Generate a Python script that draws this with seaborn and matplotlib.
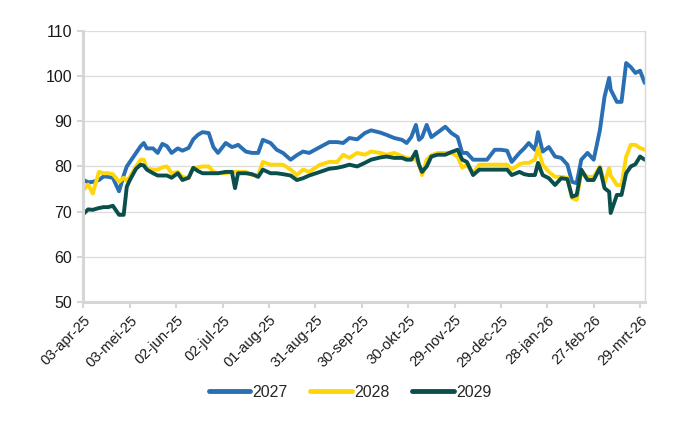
import numpy as np
import pandas as pd
import matplotlib
matplotlib.use("Agg")
import matplotlib.pyplot as plt
import seaborn as sns
from matplotlib.lines import Line2D

# ---- data ----
start_date = "2025-04-03"
day_offsets = [0, 3, 6, 10, 13, 16, 19, 23, 26, 28, 30, 34, 37, 39, 41, 45, 48, 51, 54, 57,
               61, 64, 68, 71, 74, 77, 81, 84, 87, 92, 96, 98, 100, 105, 109, 113, 116, 121, 125, 129,
               134, 138, 142, 146, 153, 159, 164, 168, 172, 177, 182, 186, 192, 196, 201, 206, 209, 212, 215, 217,
               219, 222, 225, 229, 234, 238, 242, 245, 248, 252, 256, 261, 266, 270, 274, 277, 282, 285, 288, 292,
               294, 297, 301, 305, 309, 313, 316, 319, 322, 326, 330, 334, 337, 340, 341, 345, 348, 351, 354, 357,
               360, 363]
s2027 = [77, 76.5, 76.6, 77, 77.8, 77.7, 77.5, 74.5, 78, 80, 81, 83, 84.5, 85.2, 84, 84, 83, 85, 84.5, 83,
         84, 83.5, 84.1, 86, 87, 87.6, 87.4, 84.3, 83, 85.2, 84.3, 84.5, 84.8, 83.3, 83, 83, 85.9, 85.2, 83.7, 83,
         81.5, 82.5, 83.3, 83, 84.3, 85.4, 85.4, 85.2, 86.3, 86, 87.4, 88, 87.5, 87, 86.3, 85.9, 85.2, 86.5, 89.2, 85.9,
         86.5, 89.2, 86.5, 87.5, 88.8, 87.4, 86.5, 83, 83, 81.5, 81.5, 81.5, 83.7, 83.7, 83.5, 81, 83, 84, 85.2, 83.7,
         87.6, 83.3, 84.3, 82.2, 81.9, 80.4, 76.6, 76.3, 81.5, 83, 81.5, 88, 95.4, 99.6, 97, 94.3, 94.3, 102.9, 102, 100.7,
         101.2, 98.5]
s2028 = [74.8, 76, 74, 78.8, 78.5, 78.5, 78.3, 76.6, 77.5, 76.8, 77.7, 80, 81.5, 81.5, 79.5, 79.3, 79.3, 79.8, 80, 78.5,
         78.8, 77.7, 77.4, 79.7, 79.8, 80, 80, 78.8, 78.5, 78.5, 78.8, 78.8, 78.8, 78.8, 78.1, 78.1, 81, 80.4, 80.4, 80.4,
         79.3, 78.1, 79.3, 78.8, 80.4, 81, 81, 82.6, 81.9, 83, 82.6, 83.3, 83, 82.6, 83, 82.3, 81.9, 81.7, 81.5, 80.5,
         78.1, 81.5, 82.5, 83, 83, 83, 82.2, 79.7, 80.4, 78.5, 80.4, 80.4, 80.4, 80.4, 80.4, 79.3, 80.5, 80.8, 80.8, 81.5,
         84.1, 80.4, 78.8, 77.7, 77.7, 77.5, 73, 72.6, 78.8, 77.7, 77.7, 80, 76.3, 79.6, 78, 75.9, 75.9, 82.2, 84.8, 84.8,
         84.1, 83.7]
s2029 = [69.5, 70.5, 70.4, 70.8, 71, 71, 71.3, 69.3, 69.3, 75.5, 77, 79.5, 80.4, 80.2, 79.3, 78.5, 78, 78, 78, 77.5,
         78.5, 77, 77.5, 79.7, 79, 78.5, 78.5, 78.5, 78.5, 78.8, 78.8, 75.2, 78.5, 78.5, 78.3, 77.7, 79.3, 78.5, 78.5, 78.3,
         78, 77, 77.4, 78, 78.8, 79.5, 79.7, 80, 80.4, 80, 80.8, 81.5, 82, 82.2, 81.9, 81.9, 81.5, 81.5, 83.3, 80.4,
         78.8, 80, 82.2, 82.6, 82.6, 83.2, 83.7, 81.5, 81, 78.1, 79.3, 79.3, 79.3, 79.3, 79.3, 78.1, 78.8, 78.3, 78.1, 78.1,
         80.8, 78.1, 77.4, 75.9, 77.4, 77.2, 73.3, 73.7, 79.3, 77, 77, 79.7, 75.2, 74.4, 69.7, 73.7, 73.7, 78.5, 80, 80.5,
         82.2, 81.5]
series_names = ["2027", "2028", "2029"]
tick_labels = ["03-apr-25", "03-mei-25", "02-jun-25", "02-jul-25", "01-aug-25", "31-aug-25",
               "30-sep-25", "30-okt-25", "29-nov-25", "29-dec-25", "28-jan-26", "27-feb-26", "29-mrt-26"]
y_ticks = [50, 60, 70, 80, 90, 100, 110]

colors = {"2027": "#2A6FB4", "2028": "#FFD60A", "2029": "#0B4F4C"}

# ---- build table ----
t0 = pd.Timestamp(start_date)
dates = t0 + pd.to_timedelta(day_offsets, unit="D")
frames = []
for name, vals in zip(series_names, [s2027, s2028, s2029]):
    frames.append(pd.DataFrame({"date": dates, "value": vals, "serie": name}))
df = pd.concat(frames, ignore_index=True)

sns.set_theme(style="white")
plt.rcParams["font.family"] = ["Liberation Sans", "DejaVu Sans"]

fig = plt.figure(figsize=(7, 4.3), dpi=100)
ax = fig.add_axes([0.1186, 0.2977, 0.8024, 0.6303])

sns.lineplot(data=df, x="date", y="value", hue="serie", palette=colors,
             linewidth=2.8, ax=ax, legend=False)

tick_dates = [t0 + pd.Timedelta(days=30 * i) for i in range(len(tick_labels))]
ax.set_xticks(tick_dates)
ax.set_xticklabels(tick_labels, rotation=45, ha="right", rotation_mode="anchor",
                   fontsize=10.5, color="#1a1a1a")
ax.set_xlim(t0 - pd.Timedelta(days=0.3), t0 + pd.Timedelta(days=363))
ax.set_ylim(50, 110)
ax.set_yticks(y_ticks)
ax.set_yticklabels([str(v) for v in y_ticks], fontsize=11.5, color="#1a1a1a")
ax.set_xlabel("")
ax.set_ylabel("")

ax.grid(axis="y", color="#DCDCDC", linewidth=0.9)
ax.grid(axis="x", visible=False)
for side in ["left", "bottom"]:
    ax.spines[side].set_color("#D6D6D6")
    ax.spines[side].set_linewidth(2.2)
ax.spines["right"].set_color("#D6D6D6")
ax.spines["right"].set_linewidth(1.0)
ax.spines["top"].set_visible(False)
ax.tick_params(axis="both", which="major", length=4, width=1.5, color="#D6D6D6",
               direction="out", pad=4, left=True, bottom=True)

handles = [Line2D([0], [0], color=colors[n], linewidth=3.5) for n in series_names]
fig.legend(handles, series_names, loc="center", bbox_to_anchor=(0.5, 0.088), ncol=3,
           frameon=False, fontsize=11.5, handlelength=2.6, handletextpad=0.15, columnspacing=1.4)

fig.savefig("out.png", dpi=100)
